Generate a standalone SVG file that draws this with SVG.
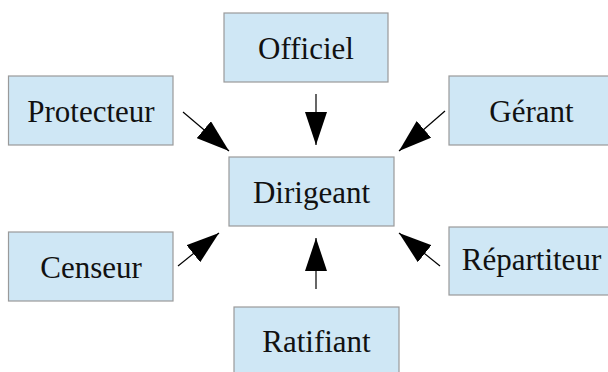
<svg xmlns="http://www.w3.org/2000/svg" width="608" height="372" viewBox="0 0 608 372">
<style>
.box{fill:#cfe7f5;stroke:#9a9a9a;stroke-width:1.2}
.lbl{font-family:"Liberation Serif","Times New Roman",serif;font-size:31px;fill:#111;text-anchor:middle}
.con{stroke:#000;stroke-width:1.2;fill:none;marker-end:url(#ah)}
</style>
<defs>
<marker id="ah" viewBox="0 0 33 22" refX="33" refY="11" markerWidth="33" markerHeight="22" markerUnits="userSpaceOnUse" orient="auto">
<path d="M0,0 L33,11 L0,22 z" fill="#000"/>
</marker>
</defs>
<rect width="608" height="372" fill="#fff"/>
<g id="officiel"><rect class="box" x="224" y="13" width="164" height="69"/><text class="lbl" x="306" y="59">Officiel</text></g>
<g id="protecteur"><rect class="box" x="8.5" y="76" width="164.5" height="69"/><text class="lbl" x="91" y="122">Protecteur</text></g>
<g id="gerant"><rect class="box" x="449" y="76" width="165" height="69"/><text class="lbl" x="531.5" y="122">Gérant</text></g>
<g id="dirigeant"><rect class="box" x="229" y="157" width="165" height="69"/><text class="lbl" x="311.5" y="203">Dirigeant</text></g>
<g id="censeur"><rect class="box" x="8.5" y="232" width="164.5" height="69"/><text class="lbl" x="91" y="278">Censeur</text></g>
<g id="repartiteur"><rect class="box" x="449" y="227" width="165" height="68"/><text class="lbl" x="531.5" y="270">Répartiteur</text></g>
<g id="ratifiant"><rect class="box" x="234" y="307" width="165" height="69"/><text class="lbl" x="316.5" y="352">Ratifiant</text></g>
<g id="connectors">
<line class="con" x1="316" y1="94" x2="316" y2="145"/>
<line class="con" x1="183" y1="112" x2="229" y2="151"/>
<line class="con" x1="445" y1="111" x2="399" y2="151"/>
<line class="con" x1="178" y1="266" x2="219" y2="233"/>
<line class="con" x1="440" y1="266" x2="399" y2="233"/>
<line class="con" x1="316" y1="289" x2="316" y2="238"/>
</g>
</svg>
